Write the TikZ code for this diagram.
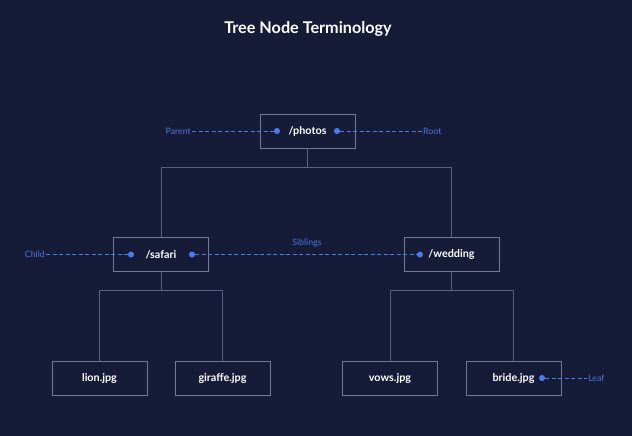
\documentclass[tikz,border=0pt]{standalone}
\usepackage{fontspec}
\setmainfont{Lato}
\usepackage{tikz}
\usetikzlibrary{positioning,calc}
\definecolor{bgnavy}{HTML}{161C37}
\definecolor{boxline}{HTML}{737A96}
\definecolor{treeline}{HTML}{5A6283}
\definecolor{markblue}{HTML}{4A7DF0}
\definecolor{labblue}{HTML}{4A78E0}

\begin{document}
\begin{tikzpicture}[
            x=1pt, y=-1pt,
            every node/.style={font=\fontsize{10}{12}\selectfont},
            dirbox/.style={draw=boxline, fill=bgnavy, line width=0.9pt, text=white,
                    minimum width=95pt, minimum height=34pt, inner sep=0pt,
                    font=\fontsize{10.8}{12}\selectfont\bfseries},
            edge/.style={draw=treeline, line width=0.9pt},
            marker/.style={circle, fill=markblue, inner sep=0pt, minimum size=6pt},
            pointer/.style={draw=markblue, line width=0.9pt, dash pattern=on 4pt off 2.5pt},
            tag/.style={text=labblue, inner sep=1pt, font=\fontsize{8.8}{10}\selectfont}
        ]

        % =============== kanvas ===============
        \fill[bgnavy] (0,0) rectangle (632,436);
        \useasboundingbox (0,0) rectangle (632,436);
        \node[text=white, font=\fontsize{16.2}{18}\selectfont\bfseries] (title) at (308,29)
        {Tree Node Terminology};

        % =============== simpul pohon ===============
        \node[dirbox] (photos)  at (307.5,131) {/photos};
        \node[dirbox] (safari)  at (161,254.5) {/safari};
        \node[dirbox] (wedding) at (451.5,254.5) {/wedding};
        \node[dirbox] (lion)    at (99.5,378) {lion.jpg};
        \node[dirbox] (giraffe) at (222.5,378) {giraffe.jpg};
        \node[dirbox] (vows)    at (390,378) {vows.jpg};
        \node[dirbox] (bride)   at (513.5,378) {bride.jpg};

        % =============== cabang ===============
        \draw[edge] (photos.south) -- ++(0,19) -| (safari.north);
        \draw[edge] (photos.south) -- ++(0,19) -| (wedding.north);
        \draw[edge] (safari.south) -- ++(0,18) -| (lion.north);
        \draw[edge] (safari.south) -- ++(0,18) -| (giraffe.north);
        \draw[edge] (wedding.south) -- ++(0,18) -| (vows.north);
        \draw[edge] (wedding.south) -- ++(0,18) -| (bride.north);

        % =============== penanda istilah ===============
        \node[marker] (photosL)  at (277,131) {};
        \node[marker] (photosR)  at (337,131) {};
        \node[marker] (safariL)  at (131,254.5) {};
        \node[marker] (safariR)  at (192,254.5) {};
        \node[marker] (weddingL) at (420,254.5) {};
        \node[marker] (brideR)   at (542,378) {};

        \node[tag, anchor=east] (parent) at (192,131) {Parent};
        \node[tag, anchor=west] (root)   at (422,131) {Root};
        \node[tag, anchor=east] (child)  at (46,254.5) {Child};
        \node[tag] (siblings) at (307,243) {Siblings};
        \node[tag, anchor=west] (leaf)   at (587,378) {Leaf};

        \draw[pointer] (parent) -- (photosL);
        \draw[pointer] (photosR) -- (root);
        \draw[pointer] (child) -- (safariL);
        \draw[pointer] (safariR) -- (weddingL);
        \draw[pointer] (brideR) -- (leaf);

    \end{tikzpicture}
\end{document}
